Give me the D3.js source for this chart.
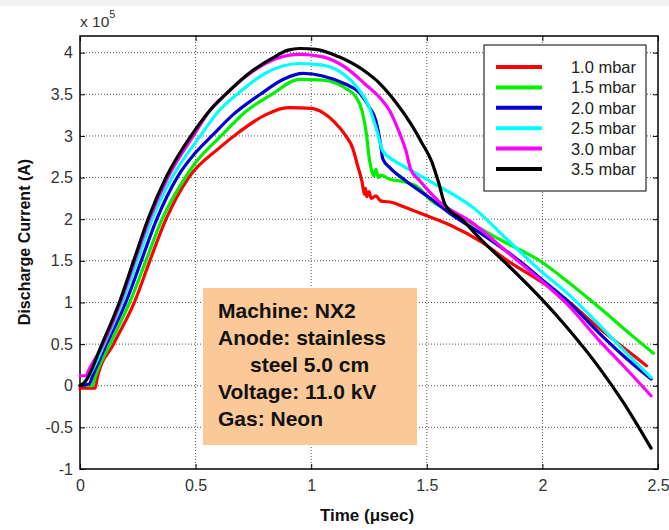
<!DOCTYPE html>
<html>
<head>
<meta charset="utf-8">
<script src="https://cdn.jsdelivr.net/npm/d3@7"></script>
<style>
  body { margin: 0; background: #fff; }
  svg { font-family: "Liberation Sans", Arial, sans-serif; }
</style>
</head>
<body>
<svg width="669" height="530"></svg>
<script>
// pressures shown in the legend
const pressures = ["1.0 mbar", "1.5 mbar", "2.0 mbar", "2.5 mbar", "3.0 mbar", "3.5 mbar"];
const colors = ["#ff0000", "#00f000", "#0000d0", "#00ffff", "#ff00ff", "#000000"];

// [time (usec), current (x1e5 A)]
const red = [[0,-0.03],[0.065,-0.03],[0.075,0.1],[0.145,0.5],[0.235,1.0],[0.302,1.5],[0.372,2.0],[0.47,2.5],[0.6,2.85],[0.69,3.05],[0.8,3.25],[0.9,3.34],[1.0,3.33],[1.05,3.28],[1.1,3.17],[1.15,3.0],[1.18,2.85],[1.2,2.65],[1.22,2.45],[1.23,2.3],[1.235,2.37],[1.24,2.27],[1.25,2.33],[1.26,2.25],[1.28,2.28],[1.3,2.22],[1.35,2.2],[1.4,2.15],[1.5,2.04],[1.6,1.93],[1.74,1.72],[1.85,1.5],[2.0,1.24],[2.1,1.04],[2.25,0.68],[2.35,0.46],[2.45,0.24]];
const green = [[0.03,0],[0.055,0],[0.065,0.1],[0.13,0.5],[0.215,1.0],[0.285,1.5],[0.355,2.0],[0.455,2.5],[0.5,2.68],[0.61,3.0],[0.72,3.3],[0.83,3.5],[0.95,3.68],[1.05,3.67],[1.15,3.57],[1.19,3.48],[1.22,3.3],[1.24,3.0],[1.25,2.75],[1.26,2.6],[1.27,2.52],[1.28,2.6],[1.29,2.5],[1.3,2.53],[1.34,2.48],[1.4,2.45],[1.46,2.39],[1.52,2.22],[1.6,2.1],[1.7,1.94],[1.82,1.75],[2.0,1.48],[2.1,1.27],[2.25,0.93],[2.38,0.62],[2.48,0.39]];
const blue = [[0,0],[0.04,0.02],[0.055,0.12],[0.115,0.5],[0.198,1.0],[0.265,1.5],[0.332,2.0],[0.42,2.5],[0.5,2.8],[0.57,3.0],[0.66,3.25],[0.78,3.5],[0.88,3.68],[0.965,3.75],[1.05,3.72],[1.15,3.62],[1.2,3.54],[1.25,3.35],[1.28,3.18],[1.3,2.9],[1.31,2.72],[1.34,2.62],[1.41,2.46],[1.51,2.26],[1.6,2.07],[1.75,1.8],[1.9,1.5],[2.0,1.27],[2.1,1.04],[2.25,0.62],[2.35,0.36],[2.47,0.08]];
const cyan = [[0.02,0.05],[0.04,0.12],[0.105,0.5],[0.183,1.0],[0.248,1.5],[0.312,2.0],[0.398,2.5],[0.52,3.0],[0.6,3.3],[0.68,3.5],[0.8,3.75],[0.95,3.87],[1.05,3.85],[1.15,3.72],[1.2,3.58],[1.25,3.35],[1.28,3.1],[1.31,2.82],[1.36,2.7],[1.41,2.62],[1.53,2.43],[1.7,2.14],[1.85,1.75],[2.0,1.36],[2.1,1.13],[2.25,0.72],[2.35,0.43],[2.47,0.1]];
const magenta = [[0,0.12],[0.025,0.12],[0.04,0.2],[0.1,0.5],[0.175,1.0],[0.237,1.5],[0.3,2.0],[0.38,2.5],[0.49,3.0],[0.56,3.3],[0.63,3.5],[0.75,3.78],[0.85,3.93],[0.95,3.98],[1.05,3.95],[1.15,3.82],[1.23,3.63],[1.3,3.45],[1.34,3.3],[1.38,3.05],[1.41,2.82],[1.43,2.6],[1.47,2.46],[1.55,2.22],[1.7,1.95],[1.85,1.6],[2.0,1.25],[2.1,1.0],[2.25,0.53],[2.35,0.24],[2.47,-0.12]];
const black = [[0,0],[0.02,0.04],[0.095,0.5],[0.17,1.0],[0.232,1.5],[0.294,2.0],[0.372,2.5],[0.48,3.0],[0.56,3.3],[0.63,3.5],[0.73,3.75],[0.83,3.93],[0.9,4.03],[0.95,4.05],[1.02,4.04],[1.12,3.95],[1.22,3.8],[1.3,3.62],[1.37,3.39],[1.43,3.15],[1.48,2.91],[1.52,2.7],[1.55,2.45],[1.58,2.17],[1.65,2.0],[1.74,1.74],[1.85,1.45],[2.0,1.03],[2.1,0.72],[2.25,0.2],[2.35,-0.2],[2.47,-0.75]];
const series = [red, green, blue, cyan, magenta, black];

const xTicks = [0, 0.5, 1, 1.5, 2, 2.5];
const yTicks = [-1, -0.5, 0, 0.5, 1, 1.5, 2, 2.5, 3, 3.5, 4];
const infoLines = ["Machine: NX2", "Anode: stainless", "steel 5.0 cm", "Voltage: 11.0 kV", "Gas: Neon"];

const svg = d3.select("svg");
const m = { left: 80, right: 658, top: 36, bottom: 469 };

const x = d3.scaleLinear().domain([0, 2.5]).range([m.left, m.right]);
const y = d3.scaleLinear().domain([-1, 4.2]).range([m.bottom, m.top]);

// faint strip at the very top of the image
svg.append("rect").attr("x", 0).attr("y", 0).attr("width", 669).attr("height", 6).attr("fill", "#f2f2f2");

// dotted grid
const grid = svg.append("g");
grid.selectAll(".gx").data(xTicks.slice(1, -1)).enter().append("line")
  .attr("x1", d => x(d)).attr("x2", d => x(d)).attr("y1", m.top).attr("y2", m.bottom)
  .attr("stroke", "#555").attr("stroke-width", 1).attr("stroke-dasharray", "1,2");
grid.selectAll(".gy").data(yTicks.filter(d => d > -1)).enter().append("line")
  .attr("x1", m.left).attr("x2", m.right).attr("y1", d => y(d)).attr("y2", d => y(d))
  .attr("stroke", "#555").attr("stroke-width", 1).attr("stroke-dasharray", "1,2");

// axes, ticks pointing inward like MATLAB (on all four sides)
const fmt = d => d3.format("")(d).replace("\u2212", "-");
const xAxis = svg.append("g").attr("transform", `translate(0,${m.bottom})`)
  .call(d3.axisBottom(x).tickValues(xTicks).tickSize(-5).tickPadding(11).tickFormat(fmt));
const yAxis = svg.append("g").attr("transform", `translate(${m.left},0)`)
  .call(d3.axisLeft(y).tickValues(yTicks).tickSize(-5).tickPadding(7).tickFormat(fmt));
const xTop = svg.append("g").attr("transform", `translate(0,${m.top})`)
  .call(d3.axisTop(x).tickValues(xTicks).tickSize(-5).tickFormat(""));
const yRight = svg.append("g").attr("transform", `translate(${m.right},0)`)
  .call(d3.axisRight(y).tickValues(yTicks).tickSize(-5).tickFormat(""));
[xAxis, yAxis, xTop, yRight].forEach(g => {
  g.select(".domain").remove();
  g.selectAll("line").attr("stroke", "#000");
  g.selectAll("text").attr("font-size", 16).attr("fill", "#333");
});

// frame
svg.append("rect").attr("x", m.left).attr("y", m.top).attr("width", m.right - m.left).attr("height", m.bottom - m.top)
  .attr("fill", "none").attr("stroke", "#000").attr("stroke-width", 1.5);

// curves
const line = d3.line().x(d => x(d[0])).y(d => y(d[1])).curve(d3.curveMonotoneX);
svg.append("g").selectAll("path").data(series).enter().append("path")
  .attr("d", line).attr("fill", "none")
  .attr("stroke", (d, i) => colors[i]).attr("stroke-width", 3.2)
  .attr("stroke-linejoin", "round").attr("stroke-linecap", "round");

// legend
const lg = svg.append("g");
lg.append("rect").attr("x", 484).attr("y", 45).attr("width", 162).attr("height", 146)
  .attr("fill", "#fff").attr("stroke", "#000").attr("stroke-width", 1);
const rows = lg.selectAll("g.row").data(pressures).enter().append("g")
  .attr("transform", (d, i) => `translate(0,${67 + i * 20.4})`);
rows.append("line").attr("x1", 496).attr("x2", 542).attr("y1", 0).attr("y2", 0)
  .attr("stroke", (d, i) => colors[i]).attr("stroke-width", 4);
rows.append("text").attr("x", 636).attr("y", 6).attr("text-anchor", "end")
  .attr("font-size", 16.5).attr("fill", "#222").text(d => d);

// info box
const info = svg.append("g");
info.append("rect").attr("x", 203).attr("y", 288).attr("width", 214).attr("height", 157).attr("fill", "#fbc897");
info.selectAll("text").data(infoLines).enter().append("text")
  .attr("x", (d, i) => i === 2 ? 250 : 218)
  .attr("y", (d, i) => 318 + i * 27)
  .attr("font-size", 21).attr("font-weight", "bold").attr("fill", "#111")
  .text(d => d);

// axis titles
svg.append("text").attr("x", 367).attr("y", 521).attr("text-anchor", "middle")
  .attr("font-size", 17).attr("font-weight", "bold").attr("fill", "#111").text("Time (\u03bcsec)");
svg.append("text").attr("transform", "translate(30,242) rotate(-90)").attr("text-anchor", "middle")
  .attr("font-size", 16).attr("font-weight", "bold").attr("fill", "#111").text("Discharge Current (A)");

// exponent label
const ex = svg.append("text").attr("x", 80).attr("y", 27).attr("font-size", 15.5).attr("fill", "#333");
ex.append("tspan").text("x 10");
ex.append("tspan").attr("dy", -9).attr("font-size", 11).text("5");
</script>
</body>
</html>
